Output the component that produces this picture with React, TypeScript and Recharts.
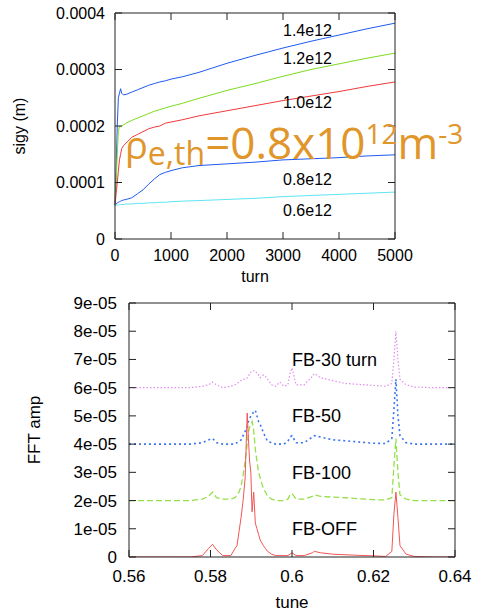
import React from 'react';
import { LineChart, Line, XAxis, YAxis, ReferenceDot } from 'recharts';

const FONT = '"Liberation Sans", Arial, Helvetica, sans-serif';

// ---- top panel: sigy vs turn ----
const turns = [0, 20, 40, 60, 80, 100, 120, 150, 200, 300, 400, 500, 600, 700, 800, 900, 1000, 1200, 1500, 2000, 2500, 3000, 3500, 4000, 4500, 5000];
const sigy14 = [0.00006, 0.00012, 0.0002, 0.00025, 0.000258, 0.000266, 0.000258, 0.000255, 0.000256, 0.00026, 0.000264, 0.000268, 0.000272, 0.000275, 0.000278, 0.00028, 0.000283, 0.000287, 0.000295, 0.000311, 0.000325, 0.000338, 0.00035, 0.000361, 0.000372, 0.000382];
const sigy12 = [0.00006, 0.0001, 0.00015, 0.00019, 0.0002, 0.000198, 0.0002, 0.000202, 0.000205, 0.00021, 0.000214, 0.000218, 0.000222, 0.000226, 0.000229, 0.000232, 0.000235, 0.00024, 0.000249, 0.000263, 0.000275, 0.000288, 0.0003, 0.00031, 0.00032, 0.000329];
const sigy10 = [0.00006, 0.00008, 0.0001, 0.00012, 0.00014, 0.00015, 0.00016, 0.000165, 0.00017, 0.00018, 0.000185, 0.00019, 0.000195, 0.000198, 0.0002, 0.000205, 0.000207, 0.000211, 0.000218, 0.000227, 0.000236, 0.000245, 0.000253, 0.000261, 0.00027, 0.000278];
const sigy08 = [0.00006, 0.000062, 0.000064, 0.000065, 0.000066, 0.000067, 0.000068, 0.000069, 0.00007, 0.000073, 0.00008, 0.000087, 0.000097, 0.000106, 0.000114, 0.000118, 0.000121, 0.000126, 0.00013, 0.000133, 0.000136, 0.00014, 0.000142, 0.000144, 0.000147, 0.000149];
const sigy06 = [0.00006, 0.00006, 0.00006, 0.00006, 0.000061, 0.000061, 0.000061, 0.000061, 0.000062, 0.000062, 0.000063, 0.000063, 0.000064, 0.000064, 0.000065, 0.000065, 0.000066, 0.000067, 0.000068, 0.00007, 0.000072, 0.000075, 0.000077, 0.000079, 0.000081, 0.000083];
const densityLabels = ['1.4e12', '1.2e12', '1.0e12', '0.8e12', '0.6e12'];
const densityLabelY = [0.00037, 0.00032, 0.000242, 0.000105, 0.00005];
const densityLabelTurn = 3000;
const turnTicks = [0, 1000, 2000, 3000, 4000, 5000];
const sigyTicks = [0, 0.0001, 0.0002, 0.0003, 0.0004];
const sigyTickLabels = ['0', '0.0001', '0.0002', '0.0003', '0.0004'];

// ---- bottom panel: FFT amp vs tune ----
const tunes = [0.56, 0.565, 0.57, 0.575, 0.578, 0.5795, 0.5805, 0.5815, 0.583, 0.585, 0.586, 0.5865, 0.587, 0.5875, 0.588, 0.5885, 0.589, 0.5893, 0.5896, 0.5899, 0.5902, 0.5906, 0.591, 0.5914, 0.5918, 0.5922, 0.5926, 0.593, 0.5935, 0.594, 0.595, 0.596, 0.597, 0.598, 0.599, 0.5995, 0.6, 0.601, 0.603, 0.605, 0.6055, 0.607, 0.61, 0.613, 0.616, 0.62, 0.623, 0.6245, 0.625, 0.6255, 0.626, 0.6265, 0.628, 0.63, 0.635, 0.64];
const fbOff = [0, 0, 0, 0, 0.05e-5, 0.3e-5, 0.45e-5, 0.25e-5, 0.05e-5, 0.05e-5, 0.3e-5, 0.4e-5, 0.9e-5, 1.4e-5, 2.0e-5, 2.8e-5, 5.1e-5, 4.2e-5, 3.4e-5, 3.0e-5, 1.6e-5, 2.3e-5, 1.2e-5, 1.0e-5, 0.8e-5, 0.6e-5, 0.5e-5, 0.4e-5, 0.3e-5, 0.2e-5, 0.1e-5, 0.05e-5, 0.05e-5, 0.05e-5, 0.05e-5, 0.1e-5, 0.15e-5, 0.05e-5, 0.05e-5, 0.15e-5, 0.2e-5, 0.15e-5, 0.1e-5, 0.08e-5, 0.06e-5, 0.04e-5, 0.02e-5, 0.2e-5, 1.5e-5, 2.3e-5, 1.4e-5, 0.4e-5, 0.1e-5, 0.02e-5, 0, 0];
const fb100 = [2.0e-5, 2.0e-5, 2.0e-5, 2.0e-5, 2.05e-5, 2.15e-5, 2.3e-5, 2.1e-5, 2.05e-5, 2.05e-5, 2.1e-5, 2.2e-5, 2.3e-5, 2.5e-5, 2.9e-5, 3.4e-5, 4.0e-5, 4.4e-5, 4.6e-5, 4.7e-5, 4.8e-5, 4.5e-5, 3.8e-5, 3.4e-5, 3.0e-5, 2.8e-5, 2.6e-5, 2.4e-5, 2.3e-5, 2.15e-5, 2.05e-5, 2.0e-5, 2.0e-5, 2.0e-5, 2.05e-5, 2.2e-5, 2.25e-5, 2.05e-5, 2.05e-5, 2.15e-5, 2.2e-5, 2.15e-5, 2.12e-5, 2.1e-5, 2.07e-5, 2.03e-5, 2.02e-5, 2.1e-5, 3.2e-5, 4.2e-5, 3.0e-5, 2.2e-5, 2.05e-5, 2.0e-5, 2.0e-5, 2.0e-5];
const fb50 = [4.0e-5, 4.0e-5, 4.0e-5, 4.0e-5, 4.05e-5, 4.15e-5, 4.2e-5, 4.05e-5, 4.0e-5, 4.0e-5, 4.0e-5, 4.05e-5, 4.1e-5, 4.15e-5, 4.3e-5, 4.45e-5, 4.6e-5, 4.8e-5, 4.9e-5, 5.0e-5, 5.05e-5, 5.15e-5, 5.2e-5, 5.0e-5, 4.8e-5, 4.7e-5, 4.55e-5, 4.4e-5, 4.25e-5, 4.1e-5, 4.05e-5, 4.0e-5, 4.0e-5, 4.0e-5, 4.1e-5, 4.25e-5, 4.3e-5, 4.05e-5, 4.05e-5, 4.25e-5, 4.3e-5, 4.25e-5, 4.15e-5, 4.12e-5, 4.08e-5, 4.03e-5, 4.02e-5, 4.2e-5, 5.2e-5, 6.3e-5, 5.0e-5, 4.3e-5, 4.05e-5, 4.0e-5, 4.0e-5, 4.0e-5];
const fb30 = [6.0e-5, 6.0e-5, 6.0e-5, 6.0e-5, 6.05e-5, 6.1e-5, 6.2e-5, 6.1e-5, 6.0e-5, 6.05e-5, 6.1e-5, 6.15e-5, 6.2e-5, 6.25e-5, 6.3e-5, 6.3e-5, 6.35e-5, 6.4e-5, 6.5e-5, 6.55e-5, 6.6e-5, 6.6e-5, 6.6e-5, 6.5e-5, 6.45e-5, 6.35e-5, 6.4e-5, 6.45e-5, 6.4e-5, 6.3e-5, 6.1e-5, 6.05e-5, 6.2e-5, 6.05e-5, 6.1e-5, 6.5e-5, 6.7e-5, 6.1e-5, 6.1e-5, 6.4e-5, 6.5e-5, 6.35e-5, 6.25e-5, 6.15e-5, 6.12e-5, 6.08e-5, 6.05e-5, 6.15e-5, 7.0e-5, 8.0e-5, 7.0e-5, 6.3e-5, 6.1e-5, 6.02e-5, 6.0e-5, 6.0e-5];
const fftLabels = ['FB-30 turn', 'FB-50', 'FB-100', 'FB-OFF'];
const fftLabelY = [7e-5, 5e-5, 3e-5, 1e-5];
const fftLabelTune = 0.6;
const tuneTicks = [0.56, 0.58, 0.6, 0.62, 0.64];
const tuneTickLabels = ['0.56', '0.58', '0.6', '0.62', '0.64'];
const ampTicks = [0, 1e-5, 2e-5, 3e-5, 4e-5, 5e-5, 6e-5, 7e-5, 8e-5, 9e-5];
const ampTickLabels = ['0', '1e-05', '2e-05', '3e-05', '4e-05', '5e-05', '6e-05', '7e-05', '8e-05', '9e-05'];

const sigyData = turns.map((t, i) => ({ turn: t, s14: sigy14[i], s12: sigy12[i], s10: sigy10[i], s08: sigy08[i], s06: sigy06[i] }));
const fftData = tunes.map((t, i) => ({ tune: t, off: fbOff[i], f100: fb100[i], f50: fb50[i], f30: fb30[i] }));

const AX = '#222';
const blank = () => '';

const yTitle = (text: string, dx: number, size: number) => (props: any) => {
  const vb = props.viewBox;
  const cx = vb.x + dx;
  const cy = vb.y + vb.height / 2;
  return (
    <text x={cx} y={cy} transform={`rotate(-90 ${cx} ${cy})`} textAnchor="middle" dominantBaseline="central" fontSize={size} fontFamily={FONT} fill="#000">
      {text}
    </text>
  );
};
const xTitle = (text: string, dy: number, size: number) => (props: any) => {
  const vb = props.viewBox;
  return (
    <text x={vb.x + vb.width / 2} y={vb.y + dy} textAnchor="middle" fontSize={size} fontFamily={FONT} fill="#000">
      {text}
    </text>
  );
};

const topColors = ['#1f5af0', '#7ddc1f', '#f03a3a', '#1f5af0', '#5fe4f4'];
const topKeys = ['s14', 's12', 's10', 's08', 's06'];

export default function App() {
  const tickTop = { fill: '#000', fontSize: 16, fontFamily: FONT };
  const tickBot = { fill: '#000', fontSize: 17, fontFamily: FONT };
  return (
    <div style={{ position: 'absolute', left: 0, top: 0, width: 481, height: 614, background: '#fff', overflow: 'hidden' }}>
      <div style={{ position: 'absolute', left: 0, top: 0 }}>
        <LineChart width={481} height={290} data={sigyData} margin={{ top: 12, right: 85, bottom: 11, left: 0 }}>
          <XAxis dataKey="turn" type="number" domain={[0, 5000]} ticks={turnTicks} interval={0}
            tickSize={-7} tickMargin={18} height={40} stroke={AX} tick={tickTop}
            label={xTitle('turn', 43, 16)} />
          <XAxis xAxisId="top" dataKey="turn" orientation="top" type="number" domain={[0, 5000]} ticks={turnTicks} interval={0}
            tickSize={-7} height={1} stroke={AX} tickFormatter={blank} />
          <YAxis type="number" domain={[0, 0.0004]} ticks={sigyTicks} interval={0} width={115}
            tickSize={-7} tickMargin={17} stroke={AX} tick={tickTop}
            tickFormatter={(v: number, i: number) => sigyTickLabels[i]}
            label={yTitle('sigy (m)', 19, 16)} />
          <YAxis yAxisId="right" orientation="right" type="number" domain={[0, 0.0004]} ticks={sigyTicks} interval={0}
            width={1} tickSize={-7} stroke={AX} tickFormatter={blank} />
          {/* invisible copy that binds the mirrored frame axes */}
          <Line xAxisId="top" yAxisId="right" dataKey="s06" stroke="none" dot={false} isAnimationActive={false} />
          {topKeys.map((k, i) => (
            <Line key={k} dataKey={k} type="linear" stroke={topColors[i]} strokeWidth={1} dot={false} isAnimationActive={false} />
          ))}
          {densityLabels.map((s, i) => (
            <ReferenceDot key={s} x={densityLabelTurn} y={densityLabelY[i]} r={0} fill="none" stroke="none"
              label={{ value: s, position: 'right', offset: 0, fontSize: 16, fontFamily: FONT, fill: '#000' }} />
          ))}
        </LineChart>
      </div>

      <div style={{ position: 'absolute', left: 0, top: 290 }}>
        <LineChart width={481} height={324} data={fftData} margin={{ top: 12, right: 25, bottom: 7, left: 0 }}>
          <XAxis dataKey="tune" type="number" domain={[0.56, 0.64]} ticks={tuneTicks} interval={0}
            tickSize={-7} tickMargin={20} height={50} stroke={AX} tick={tickBot}
            tickFormatter={(v: number, i: number) => tuneTickLabels[i]}
            label={xTitle('tune', 51, 17)} allowDataOverflow />
          <XAxis xAxisId="top" dataKey="tune" orientation="top" type="number" domain={[0.56, 0.64]} ticks={tuneTicks} interval={0}
            tickSize={-7} height={1} stroke={AX} tickFormatter={blank} allowDataOverflow />
          <YAxis type="number" domain={[0, 9e-5]} ticks={ampTicks} interval={0} width={129}
            tickSize={-7} tickMargin={19} stroke={AX} tick={tickBot}
            tickFormatter={(v: number, i: number) => ampTickLabels[i]}
            label={yTitle('FFT amp', 34, 17)} allowDataOverflow />
          <YAxis yAxisId="right" orientation="right" type="number" domain={[0, 9e-5]} ticks={ampTicks} interval={0}
            width={1} tickSize={-7} stroke={AX} tickFormatter={blank} allowDataOverflow />
          <Line xAxisId="top" yAxisId="right" dataKey="off" stroke="none" dot={false} isAnimationActive={false} />
          <Line dataKey="f30" type="linear" stroke="#e38cf0" strokeWidth={1.2} strokeDasharray="1.5 2" dot={false} isAnimationActive={false} />
          <Line dataKey="f50" type="linear" stroke="#3b74f0" strokeWidth={1.6} strokeDasharray="2 3" dot={false} isAnimationActive={false} />
          <Line dataKey="f100" type="linear" stroke="#96e04a" strokeWidth={1.3} strokeDasharray="6 3" dot={false} isAnimationActive={false} />
          <Line dataKey="off" type="linear" stroke="#f25555" strokeWidth={1} dot={false} isAnimationActive={false} />
          {fftLabels.map((s, i) => (
            <ReferenceDot key={s} x={fftLabelTune} y={fftLabelY[i]} r={0} fill="none" stroke="none"
              label={{ value: s, position: 'right', offset: 0, fontSize: 18, fontFamily: FONT, fill: '#000' }} />
          ))}
        </LineChart>
      </div>

      <div style={{ position: 'absolute', left: 125, top: 120, whiteSpace: 'nowrap', fontFamily: '"Open Sans", "Noto Sans", sans-serif', fontSize: 44, lineHeight: '44px', color: '#e0962a' }}>
        <span style={{ fontSize: 38 }}>ρ</span>
        <span style={{ fontSize: 32, position: 'relative', top: 6 }}>e,th</span>
        <span>=0.8x10</span>
        <span style={{ fontSize: 28, position: 'relative', top: -15 }}>12</span>
        <span>m</span>
        <span style={{ fontSize: 28, position: 'relative', top: -15 }}>-3</span>
      </div>
    </div>
  );
}
